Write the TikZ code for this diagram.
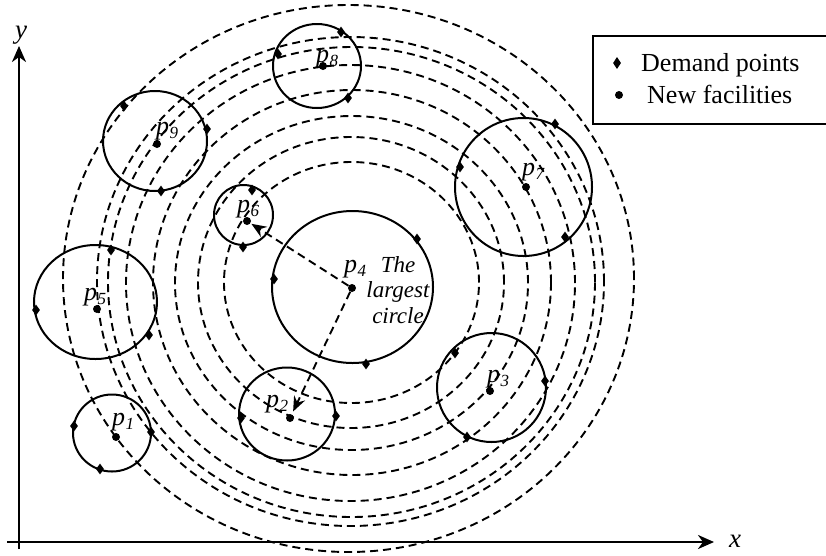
\documentclass[tikz,border=0pt]{standalone}
\usepackage{fontspec}
\setmainfont{Liberation Serif}
\usetikzlibrary{shapes.geometric,arrows.meta}
\newcommand{\plab}[1]{\textit{p}\kern0.5pt\raisebox{-4pt}{\fontsize{17}{17}\selectfont\textit{#1}}}
\begin{document}
\begin{tikzpicture}[x=1pt,y=-1pt,
  circ/.style={line width=2pt},
  dcirc/.style={line width=1.9pt, dash pattern=on 8pt off 5pt},
  darrow/.style={line width=1.9pt, dash pattern=on 8pt off 5pt, -{Stealth[length=15pt,width=12pt,inset=5pt]}},
  axis/.style={line width=2.5pt, -{Stealth[length=16pt,width=14pt,inset=5pt]}},
  dem/.style={diamond, fill=black, inner sep=0pt, minimum width=8pt, minimum height=11pt},
  fac/.style={circle, fill=black, inner sep=0pt, minimum size=8pt},
  plabel/.style={anchor=base west, inner sep=0pt, font=\fontsize{26}{26}\selectfont},
  leg/.style={anchor=base west, inner sep=0pt, font=\fontsize{26}{30}\selectfont},
  axlab/.style={anchor=base west, inner sep=0pt, font=\fontsize{27}{27}\selectfont\itshape},
  note/.style={align=center, inner sep=0pt, font=\fontsize{23}{25.5}\selectfont\itshape}]
\useasboundingbox (0,0) rectangle (826,555);
% concentric dashed circles around p4
\draw[dcirc] (351.5,282.5) ellipse [x radius=127.5pt, y radius=120.5pt];
\draw[dcirc] (351,282.5) ellipse [x radius=153pt, y radius=145.5pt];
\draw[dcirc] (351.5,283) ellipse [x radius=176.5pt, y radius=167pt];
\draw[dcirc] (352,282.5) ellipse [x radius=199pt, y radius=192.5pt];
\draw[dcirc] (350.5,283) ellipse [x radius=224.5pt, y radius=218pt];
\draw[dcirc] (351.5,282) ellipse [x radius=243.5pt, y radius=235pt];
\draw[dcirc] (350.5,281.5) ellipse [x radius=253.5pt, y radius=244.5pt];
\draw[dcirc] (348.5,278.5) ellipse [x radius=285.5pt, y radius=273.5pt];
% solid circles
\draw[circ] (112,433) ellipse [x radius=39pt, y radius=38.5pt];
\draw[circ] (287,414) ellipse [x radius=48pt, y radius=46.5pt];
\draw[circ] (491.5,387.5) ellipse [x radius=54.5pt, y radius=54.5pt];
\draw[circ] (352.5,287) ellipse [x radius=80.5pt, y radius=76pt];
\draw[circ] (95.5,302) ellipse [x radius=61.5pt, y radius=57pt];
\draw[circ] (243.5,215) ellipse [x radius=29.5pt, y radius=30pt];
\draw[circ] (523.5,187) ellipse [x radius=68.5pt, y radius=69pt];
\draw[circ] (317,66) ellipse [x radius=44pt, y radius=42pt];
\draw[circ] (155,141) ellipse [x radius=52pt, y radius=50pt];
% facilities
\node[fac] (f1) at (116,437) {};
\node[fac] (f2) at (290,418) {};
\node[fac] (f3) at (490,391) {};
\node[fac] (f4) at (352,288) {};
\node[fac] (f5) at (97,309) {};
\node[fac] (f6) at (247,221) {};
\node[fac] (f7) at (526,187) {};
\node[fac] (f8) at (323,66) {};
\node[fac] (f9) at (157,144) {};
% demand points
\node[dem] (d1a) at (74,426) {};
\node[dem] (d1b) at (151,432) {};
\node[dem] (d1c) at (100,469) {};
\node[dem] (d2a) at (241,418) {};
\node[dem] (d2b) at (336,416) {};
\node[dem] (d3a) at (455,353) {};
\node[dem] (d3b) at (545,381) {};
\node[dem] (d3c) at (467,437) {};
\node[dem] (d4a) at (417,239) {};
\node[dem] (d4b) at (274,279) {};
\node[dem] (d4c) at (366,364) {};
\node[dem] (d5a) at (36,310) {};
\node[dem] (d5b) at (111,250) {};
\node[dem] (d5c) at (149,335) {};
\node[dem] (d6a) at (252,190) {};
\node[dem] (d6b) at (243,247) {};
\node[dem] (d7a) at (555,124) {};
\node[dem] (d7b) at (460,167) {};
\node[dem] (d7c) at (565,237) {};
\node[dem] (d8a) at (341,32) {};
\node[dem] (d8b) at (278,54) {};
\node[dem] (d8c) at (348,98) {};
\node[dem] (d9a) at (124,106) {};
\node[dem] (d9b) at (207,129) {};
\node[dem] (d9c) at (161,191) {};
% labels
\node[plabel] (l1) at (112,425) {\plab{1}};
\node[plabel] (l2) at (266,407) {\plab{2}};
\node[plabel] (l3) at (487,382) {\plab{3}};
\node[plabel] (l4) at (344,272) {\plab{4}};
\node[plabel] (l5) at (84,300) {\plab{5}};
\node[plabel] (l6) at (237,212) {\plab{6}};
\node[plabel] (l7) at (522,175) {\plab{7}};
\node[plabel] (l8) at (316,62) {\plab{8}};
\node[plabel] (l9) at (156,134) {\plab{9}};
\node[note] (big) at (398,290) {The\\largest\\circle};
% radius arrows
\draw[darrow, shorten >=1pt] (f4) -- (f6);
\draw[darrow, shorten >=3pt] (f4) -- (f2);
% axes
\coordinate (ybot) at (19,549);
\coordinate (ytop) at (19,46);
\coordinate (xleft) at (7,542);
\coordinate (xright) at (714,542);
\draw[axis] (ybot) -- (ytop);
\draw[axis] (xleft) -- (xright);
\node[axlab] (ylab) at (15,38) {y};
\node[axlab] (xlab) at (729,547) {x};
% legend
\draw[line width=1.9pt] (828,36) -- (593,36) -- (593,124) -- (828,124);
\node[dem, minimum width=8pt, minimum height=12pt] (ld) at (617,63) {};
\node[fac] (lf) at (619,95) {};
\node[leg] (lt1) at (641,71) {Demand points};
\node[leg] (lt2) at (647,103) {New facilities};
\end{tikzpicture}
\end{document}
